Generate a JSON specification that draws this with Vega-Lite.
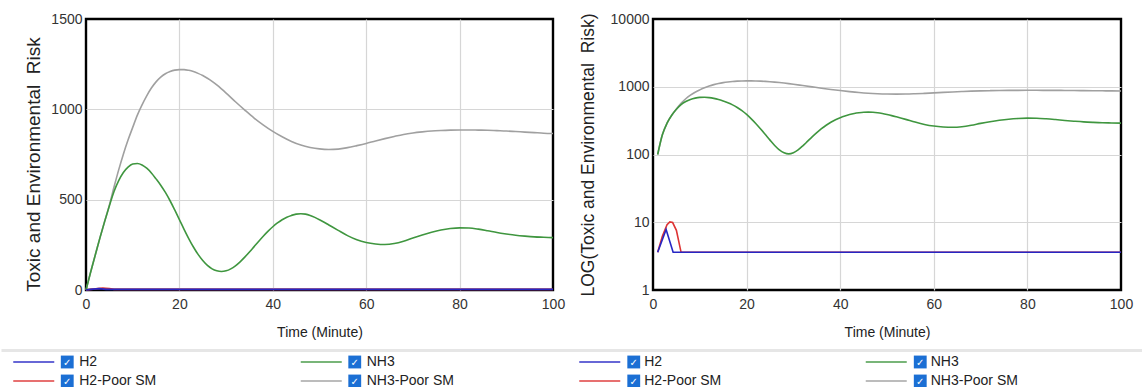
{
  "$schema": "https://vega.github.io/schema/vega-lite/v6.json",
  "autosize": {"type": "pad"},
  "padding": {"left": 13, "top": 10, "right": 0, "bottom": 0},
  "background": "white",
  "config": {
    "view": {"stroke": "black", "strokeWidth": 2},
    "font": "Liberation Sans",
    "axis": {
      "domain": false, "ticks": false, "tickSize": 0, "grid": true,
      "gridColor": "#d6d6d6", "gridWidth": 1.2,
      "labelFont": "Liberation Sans", "labelFontSize": 14, "labelColor": "#333333",
      "titleFont": "Liberation Sans", "titleFontWeight": "normal", "titleColor": "#222222",
      "labelFlush": false, "labelOverlap": false, "labelBound": false
    }
  },
  "datasets": {
    "sim": [
      {"series": "NH3-Poor SM", "t": 0, "v": 0}, {"series": "NH3-Poor SM", "t": 1, "v": 100}, {"series": "NH3-Poor SM", "t": 2, "v": 195}, {"series": "NH3-Poor SM", "t": 3, "v": 290}, {"series": "NH3-Poor SM", "t": 4, "v": 380}, {"series": "NH3-Poor SM", "t": 5, "v": 470}, {"series": "NH3-Poor SM", "t": 6, "v": 570}, {"series": "NH3-Poor SM", "t": 7, "v": 665}, {"series": "NH3-Poor SM", "t": 8, "v": 752}, {"series": "NH3-Poor SM", "t": 9, "v": 830}, {"series": "NH3-Poor SM", "t": 10, "v": 900}, {"series": "NH3-Poor SM", "t": 11, "v": 968}, {"series": "NH3-Poor SM", "t": 12, "v": 1025}, {"series": "NH3-Poor SM", "t": 13, "v": 1075}, {"series": "NH3-Poor SM", "t": 14, "v": 1118}, {"series": "NH3-Poor SM", "t": 15, "v": 1152}, {"series": "NH3-Poor SM", "t": 16, "v": 1178}, {"series": "NH3-Poor SM", "t": 17, "v": 1197}, {"series": "NH3-Poor SM", "t": 18, "v": 1209}, {"series": "NH3-Poor SM", "t": 19, "v": 1217}, {"series": "NH3-Poor SM", "t": 20, "v": 1220}, {"series": "NH3-Poor SM", "t": 21, "v": 1220}, {"series": "NH3-Poor SM", "t": 22, "v": 1216}, {"series": "NH3-Poor SM", "t": 23, "v": 1209}, {"series": "NH3-Poor SM", "t": 24, "v": 1199}, {"series": "NH3-Poor SM", "t": 25, "v": 1187}, {"series": "NH3-Poor SM", "t": 26, "v": 1172}, {"series": "NH3-Poor SM", "t": 27, "v": 1155}, {"series": "NH3-Poor SM", "t": 28, "v": 1135}, {"series": "NH3-Poor SM", "t": 29, "v": 1113}, {"series": "NH3-Poor SM", "t": 30, "v": 1090}, {"series": "NH3-Poor SM", "t": 32, "v": 1042}, {"series": "NH3-Poor SM", "t": 34, "v": 996}, {"series": "NH3-Poor SM", "t": 36, "v": 952}, {"series": "NH3-Poor SM", "t": 38, "v": 913}, {"series": "NH3-Poor SM", "t": 40, "v": 878}, {"series": "NH3-Poor SM", "t": 42, "v": 848}, {"series": "NH3-Poor SM", "t": 44, "v": 822}, {"series": "NH3-Poor SM", "t": 46, "v": 802}, {"series": "NH3-Poor SM", "t": 48, "v": 789}, {"series": "NH3-Poor SM", "t": 50, "v": 781}, {"series": "NH3-Poor SM", "t": 52, "v": 778}, {"series": "NH3-Poor SM", "t": 54, "v": 780}, {"series": "NH3-Poor SM", "t": 56, "v": 788}, {"series": "NH3-Poor SM", "t": 58, "v": 799}, {"series": "NH3-Poor SM", "t": 60, "v": 811}, {"series": "NH3-Poor SM", "t": 62, "v": 825}, {"series": "NH3-Poor SM", "t": 64, "v": 838}, {"series": "NH3-Poor SM", "t": 66, "v": 850}, {"series": "NH3-Poor SM", "t": 68, "v": 861}, {"series": "NH3-Poor SM", "t": 70, "v": 869}, {"series": "NH3-Poor SM", "t": 72, "v": 875}, {"series": "NH3-Poor SM", "t": 74, "v": 880}, {"series": "NH3-Poor SM", "t": 76, "v": 883}, {"series": "NH3-Poor SM", "t": 78, "v": 885}, {"series": "NH3-Poor SM", "t": 80, "v": 886}, {"series": "NH3-Poor SM", "t": 82, "v": 886}, {"series": "NH3-Poor SM", "t": 84, "v": 885}, {"series": "NH3-Poor SM", "t": 86, "v": 884}, {"series": "NH3-Poor SM", "t": 88, "v": 882}, {"series": "NH3-Poor SM", "t": 90, "v": 880}, {"series": "NH3-Poor SM", "t": 92, "v": 877}, {"series": "NH3-Poor SM", "t": 94, "v": 874}, {"series": "NH3-Poor SM", "t": 96, "v": 871}, {"series": "NH3-Poor SM", "t": 98, "v": 868}, {"series": "NH3-Poor SM", "t": 100, "v": 866},
      {"series": "NH3", "t": 0, "v": 0}, {"series": "NH3", "t": 1, "v": 100}, {"series": "NH3", "t": 2, "v": 195}, {"series": "NH3", "t": 3, "v": 290}, {"series": "NH3", "t": 4, "v": 380}, {"series": "NH3", "t": 5, "v": 465}, {"series": "NH3", "t": 6, "v": 545}, {"series": "NH3", "t": 7, "v": 605}, {"series": "NH3", "t": 8, "v": 650}, {"series": "NH3", "t": 9, "v": 680}, {"series": "NH3", "t": 10, "v": 697}, {"series": "NH3", "t": 11, "v": 700}, {"series": "NH3", "t": 12, "v": 692}, {"series": "NH3", "t": 13, "v": 674}, {"series": "NH3", "t": 14, "v": 648}, {"series": "NH3", "t": 15, "v": 615}, {"series": "NH3", "t": 16, "v": 580}, {"series": "NH3", "t": 17, "v": 540}, {"series": "NH3", "t": 18, "v": 494}, {"series": "NH3", "t": 19, "v": 443}, {"series": "NH3", "t": 20, "v": 390}, {"series": "NH3", "t": 21, "v": 336}, {"series": "NH3", "t": 22, "v": 285}, {"series": "NH3", "t": 23, "v": 238}, {"series": "NH3", "t": 24, "v": 197}, {"series": "NH3", "t": 25, "v": 163}, {"series": "NH3", "t": 26, "v": 136}, {"series": "NH3", "t": 27, "v": 117}, {"series": "NH3", "t": 28, "v": 106}, {"series": "NH3", "t": 29, "v": 102}, {"series": "NH3", "t": 30, "v": 106}, {"series": "NH3", "t": 31, "v": 117}, {"series": "NH3", "t": 32, "v": 134}, {"series": "NH3", "t": 33, "v": 156}, {"series": "NH3", "t": 34, "v": 182}, {"series": "NH3", "t": 35, "v": 210}, {"series": "NH3", "t": 36, "v": 240}, {"series": "NH3", "t": 37, "v": 270}, {"series": "NH3", "t": 38, "v": 299}, {"series": "NH3", "t": 39, "v": 326}, {"series": "NH3", "t": 40, "v": 350}, {"series": "NH3", "t": 41, "v": 371}, {"series": "NH3", "t": 42, "v": 389}, {"series": "NH3", "t": 43, "v": 403}, {"series": "NH3", "t": 44, "v": 413}, {"series": "NH3", "t": 45, "v": 420}, {"series": "NH3", "t": 46, "v": 422}, {"series": "NH3", "t": 47, "v": 420}, {"series": "NH3", "t": 48, "v": 413}, {"series": "NH3", "t": 49, "v": 402}, {"series": "NH3", "t": 50, "v": 389}, {"series": "NH3", "t": 51, "v": 375}, {"series": "NH3", "t": 52, "v": 360}, {"series": "NH3", "t": 54, "v": 330}, {"series": "NH3", "t": 56, "v": 301}, {"series": "NH3", "t": 58, "v": 278}, {"series": "NH3", "t": 60, "v": 263}, {"series": "NH3", "t": 62, "v": 255}, {"series": "NH3", "t": 64, "v": 252}, {"series": "NH3", "t": 66, "v": 257}, {"series": "NH3", "t": 68, "v": 270}, {"series": "NH3", "t": 70, "v": 288}, {"series": "NH3", "t": 72, "v": 305}, {"series": "NH3", "t": 74, "v": 320}, {"series": "NH3", "t": 76, "v": 332}, {"series": "NH3", "t": 78, "v": 340}, {"series": "NH3", "t": 80, "v": 344}, {"series": "NH3", "t": 82, "v": 343}, {"series": "NH3", "t": 84, "v": 337}, {"series": "NH3", "t": 86, "v": 328}, {"series": "NH3", "t": 88, "v": 318}, {"series": "NH3", "t": 90, "v": 310}, {"series": "NH3", "t": 92, "v": 303}, {"series": "NH3", "t": 94, "v": 298}, {"series": "NH3", "t": 96, "v": 294}, {"series": "NH3", "t": 98, "v": 292}, {"series": "NH3", "t": 100, "v": 290},
      {"series": "H2-Poor SM", "t": 0, "v": 0}, {"series": "H2-Poor SM", "t": 1, "v": 3.6}, {"series": "H2-Poor SM", "t": 2, "v": 6.2}, {"series": "H2-Poor SM", "t": 3, "v": 9.2}, {"series": "H2-Poor SM", "t": 3.6, "v": 10.1}, {"series": "H2-Poor SM", "t": 4.2, "v": 9.9}, {"series": "H2-Poor SM", "t": 5, "v": 7.6}, {"series": "H2-Poor SM", "t": 6, "v": 3.6}, {"series": "H2-Poor SM", "t": 100, "v": 3.6},
      {"series": "H2", "t": 0, "v": 0}, {"series": "H2", "t": 1, "v": 3.6}, {"series": "H2", "t": 2.8, "v": 7.8}, {"series": "H2", "t": 4.3, "v": 3.6}, {"series": "H2", "t": 100, "v": 3.6}
    ],
    "legend": [
      {"series": "H2", "family": "H2", "variant": "Base"},
      {"series": "H2-Poor SM", "family": "H2", "variant": "Poor SM"},
      {"series": "NH3", "family": "NH3", "variant": "Base"},
      {"series": "NH3-Poor SM", "family": "NH3", "variant": "Poor SM"}
    ]
  },
  "columns": 2,
  "bounds": "flush",
  "spacing": {"row": 60, "column": 100},
  "concat": [
    {
      "width": 467, "height": 271,
      "view": {"stroke": "#000000", "strokeWidth": 2.4},
      "data": {"name": "sim"},
      "encoding": {
        "x": {"field": "t", "type": "quantitative", "scale": {"domain": [0, 100], "nice": false, "zero": false},
              "axis": {"values": [0, 20, 40, 60, 80, 100], "format": "d", "title": "Time (Minute)", "titleFontSize": 14, "labelPadding": 7, "titlePadding": 14,
                       "gridOpacity": {"condition": {"test": "datum.value === 0 || datum.value === 100", "value": 0}, "value": 1}}},
        "y": {"field": "v", "type": "quantitative", "scale": {"domain": [0, 1500], "nice": false},
              "axis": {"values": [0, 500, 1000, 1500], "format": "d", "title": "Toxic and Environmental\u00a0 Risk", "titleFontSize": 19, "titleY": 145, "labelPadding": 4, "titlePadding": 7,
                       "gridOpacity": {"condition": {"test": "datum.value === 0 || datum.value === 1500", "value": 0}, "value": 1}}},
        "color": {"field": "series", "type": "nominal", "scale": {"domain": ["H2", "H2-Poor SM", "NH3", "NH3-Poor SM"], "range": ["#2626c4", "#dd3333", "#3f963f", "#a0a0a0"]}, "legend": null}
      },
      "layer": [
        {"transform": [{"filter": "datum.series === 'NH3-Poor SM'"}], "mark": {"type": "line", "strokeWidth": 1.6, "interpolate": "monotone"}},
        {"transform": [{"filter": "datum.series === 'NH3'"}], "mark": {"type": "line", "strokeWidth": 1.6, "interpolate": "monotone"}},
        {"transform": [{"filter": "datum.series === 'H2-Poor SM'"}], "mark": {"type": "line", "strokeWidth": 1.6}},
        {"transform": [{"filter": "datum.series === 'H2'"}], "mark": {"type": "line", "strokeWidth": 1.6}}
      ]
    },
    {
      "width": 468, "height": 271,
      "view": {"stroke": "#000000", "strokeWidth": 2.4},
      "data": {"name": "sim"},
      "transform": [{"filter": "datum.v > 0"}],
      "encoding": {
        "x": {"field": "t", "type": "quantitative", "scale": {"domain": [0, 100], "nice": false, "zero": false},
              "axis": {"values": [0, 20, 40, 60, 80, 100], "format": "d", "title": "Time (Minute)", "titleFontSize": 14, "labelPadding": 7, "titlePadding": 14,
                       "gridOpacity": {"condition": {"test": "datum.value === 0 || datum.value === 100", "value": 0}, "value": 1}}},
        "y": {"field": "v", "type": "quantitative", "scale": {"type": "log", "domain": [1, 10000], "nice": false},
              "axis": {"values": [1, 10, 100, 1000, 10000], "format": "d", "title": "LOG(Toxic and Environmental\u00a0 Risk)", "titleFontSize": 17.5, "labelPadding": 4, "titlePadding": 13,
                       "gridOpacity": {"condition": {"test": "datum.value === 1 || datum.value === 10000", "value": 0}, "value": 1}}},
        "color": {"field": "series", "type": "nominal", "scale": {"domain": ["H2", "H2-Poor SM", "NH3", "NH3-Poor SM"], "range": ["#2626c4", "#dd3333", "#3f963f", "#a0a0a0"]}, "legend": null}
      },
      "layer": [
        {"transform": [{"filter": "datum.series === 'NH3-Poor SM'"}], "mark": {"type": "line", "strokeWidth": 1.6, "interpolate": "monotone"}},
        {"transform": [{"filter": "datum.series === 'NH3'"}], "mark": {"type": "line", "strokeWidth": 1.6, "interpolate": "monotone"}},
        {"transform": [{"filter": "datum.series === 'H2-Poor SM'"}], "mark": {"type": "line", "strokeWidth": 1.6}},
        {"transform": [{"filter": "datum.series === 'H2'"}], "mark": {"type": "line", "strokeWidth": 1.6}}
      ]
    },
    {
      "width": 467, "height": 38,
      "view": {"stroke": null},
      "data": {"name": "legend"},
      "encoding": {
        "x": {"field": "family", "type": "nominal", "scale": {"type": "band", "domain": ["H2", "NH3"], "range": [-85, 490], "paddingInner": 0, "paddingOuter": 0},
              "axis": {"orient": "top", "domain": true, "domainColor": "#e6e6e6", "domainWidth": 3, "labels": false, "ticks": false, "grid": false, "title": null}},
        "y": {"field": "variant", "type": "nominal", "scale": {"type": "band", "domain": ["Base", "Poor SM"], "paddingInner": 0, "paddingOuter": 0}, "axis": null}
      },
      "layer": [
        {"mark": {"type": "tick", "orient": "horizontal", "size": 41, "thickness": 2, "xOffset": -111, "yOffset": 2.5},
         "encoding": {"color": {"field": "series", "type": "nominal", "scale": {"domain": ["H2", "H2-Poor SM", "NH3", "NH3-Poor SM"], "range": ["#2626c4", "#dd3333", "#3f963f", "#a0a0a0"]}, "legend": null}}},
        {"mark": {"type": "square", "size": 165, "filled": true, "color": "#1b6fd4", "opacity": 1, "xOffset": -77.5, "yOffset": 2.5}},
        {"mark": {"type": "text", "text": "✓", "font": "DejaVu Sans", "fontSize": 10, "fontWeight": "bold", "color": "white", "xOffset": -77.5, "yOffset": 3}},
        {"mark": {"type": "text", "align": "left", "fontSize": 14, "color": "#222222", "xOffset": -65.5, "yOffset": 2.5},
         "encoding": {"text": {"field": "series"}}}
      ]
    },
    {
      "width": 468, "height": 38,
      "view": {"stroke": null},
      "data": {"name": "legend"},
      "encoding": {
        "x": {"field": "family", "type": "nominal", "scale": {"type": "band", "domain": ["H2", "NH3"], "range": [-83, 490], "paddingInner": 0, "paddingOuter": 0},
              "axis": {"orient": "top", "domain": true, "domainColor": "#e6e6e6", "domainWidth": 3, "labels": false, "ticks": false, "grid": false, "title": null}},
        "y": {"field": "variant", "type": "nominal", "scale": {"type": "band", "domain": ["Base", "Poor SM"], "paddingInner": 0, "paddingOuter": 0}, "axis": null}
      },
      "layer": [
        {"mark": {"type": "tick", "orient": "horizontal", "size": 41, "thickness": 2, "xOffset": -113.5, "yOffset": 2.5},
         "encoding": {"color": {"field": "series", "type": "nominal", "scale": {"domain": ["H2", "H2-Poor SM", "NH3", "NH3-Poor SM"], "range": ["#2626c4", "#dd3333", "#3f963f", "#a0a0a0"]}, "legend": null}}},
        {"mark": {"type": "square", "size": 165, "filled": true, "color": "#1b6fd4", "opacity": 1, "xOffset": -79.5, "yOffset": 2.5}},
        {"mark": {"type": "text", "text": "✓", "font": "DejaVu Sans", "fontSize": 10, "fontWeight": "bold", "color": "white", "xOffset": -79.5, "yOffset": 3}},
        {"mark": {"type": "text", "align": "left", "fontSize": 14, "color": "#222222", "xOffset": -69, "yOffset": 2.5},
         "encoding": {"text": {"field": "series"}}}
      ]
    }
  ]
}
